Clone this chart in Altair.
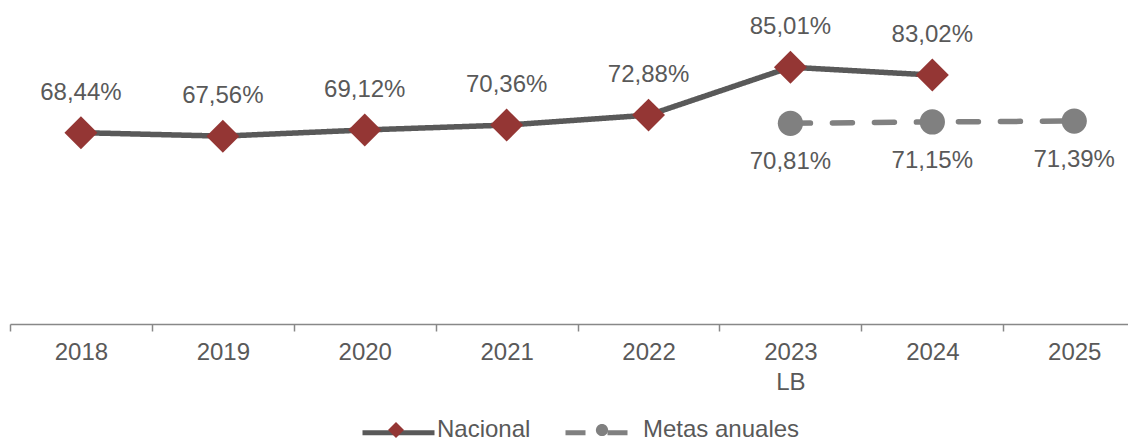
import json
import altair as alt
import pandas as pd

# ---------------- data ----------------
years = ["2018", "2019", "2020", "2021", "2022", "2023", "2024", "2025"]
year_labels = ["2018", "2019", "2020", "2021", "2022", "2023\nLB", "2024", "2025"]
series = ["Nacional", "Metas anuales"]
nacional_years = ["2018", "2019", "2020", "2021", "2022", "2023", "2024"]
nacional_values = [68.44, 67.56, 69.12, 70.36, 72.88, 85.01, 83.02]
metas_years = ["2023", "2024", "2025"]
metas_values = [70.81, 71.15, 71.39]

rows = []
for y, v in zip(nacional_years, nacional_values):
    rows.append({"serie": "Nacional", "idx": years.index(y), "valor": v})
for y, v in zip(metas_years, metas_values):
    rows.append({"serie": "Metas anuales", "idx": years.index(y), "valor": v})
df = pd.DataFrame(rows)
df["etiqueta"] = df["valor"].map(lambda v: f"{v:.2f}".replace(".", ",") + "%")

# ---------------- style ----------------
FONT = "Liberation Sans"
TXT = "#595959"
RED = "#943634"
DARK = "#595959"
GRAY = "#808080"
AXIS = "#888888"

diamond_path = "M0,-0.222L0.222,0L0,0.222L-0.222,0Z"
circle_path = "M-0.17,0A0.17,0.17,0,1,0,0.17,0A0.17,0.17,0,1,0,-0.17,0Z"

label_arr = json.dumps([l.split("\n") for l in year_labels])
tick_vals = [i * 0.5 - 0.5 for i in range(16)]  # -0.5 .. 7.0

x_enc = alt.X(
    "idx:Q",
    scale=alt.Scale(domain=[-0.5, 7.379], nice=False, zero=False),
    axis=alt.Axis(
        values=tick_vals,
        title=None,
        grid=False,
        labelExpr=f"datum.value % 1 == 0 ? {label_arr}[datum.value] : ''",
        tickColor={"condition": {"test": "datum.value % 1 != 0", "value": AXIS}, "value": "transparent"},
        tickSize=7,
        tickWidth=1.5,
        domainColor=AXIS,
        domainWidth=1.5,
        labelFont=FONT,
        labelFontSize=24,
        labelColor=TXT,
        labelPadding=9,
        labelLineHeight=30,
        labelOverlap=False,
        labelFlush=False,
        labelBound=False,
    ),
)
y_enc = alt.Y("valor:Q", scale=alt.Scale(domain=[20, 100], nice=False, zero=False), axis=None)

LEG_X = 350
LEG_Y = 386

# the line legend gets a scale domain with one hidden extra entry so that
# Vega-Lite keeps it apart from the marker legend (they are then overlaid)
line_domain = series + ["_"]
line_legend = alt.Legend(
    title=None, orient="none", legendX=LEG_X, legendY=LEG_Y, direction="horizontal",
    values=series,
    symbolType="stroke", symbolSize=5184, symbolStrokeWidth=5,
    labelExpr="''", labelFontSize=24, labelOffset=5, columnPadding=110, padding=0,
)
point_legend = alt.Legend(
    title=None, orient="none", legendX=LEG_X, legendY=LEG_Y, direction="horizontal",
    symbolSize=5184, symbolStrokeWidth=0,
    labelFont=FONT, labelFontSize=24, labelColor=TXT,
    labelOffset=5, columnPadding=35, padding=0,
)

base = alt.Chart(df)

lines = base.mark_line(strokeWidth=5.5, strokeCap="round", strokeJoin="round").encode(
    x=x_enc,
    y=y_enc,
    detail="serie:N",
    stroke=alt.Stroke(
        "serie:N", scale=alt.Scale(domain=line_domain, range=[DARK, GRAY, "transparent"]), legend=line_legend
    ),
    strokeDash=alt.StrokeDash(
        "serie:N", scale=alt.Scale(domain=line_domain, range=[[1, 0], [20, 22], [1, 0]]), legend=line_legend
    ),
)

points = base.mark_point(filled=True, size=22090, opacity=1, strokeWidth=0).encode(
    x=x_enc,
    y=y_enc,
    color=alt.Color("serie:N", scale=alt.Scale(domain=series, range=[RED, GRAY]), legend=point_legend),
    shape=alt.Shape(
        "serie:N", scale=alt.Scale(domain=series, range=[diamond_path, circle_path]), legend=point_legend
    ),
)

text_nac = base.transform_filter(alt.datum.serie == "Nacional").mark_text(
    dy=-40, font=FONT, fontSize=24, color=TXT, baseline="middle"
).encode(x=x_enc, y=y_enc, text="etiqueta:N")

text_met = base.transform_filter(alt.datum.serie == "Metas anuales").mark_text(
    dy=39, font=FONT, fontSize=24, color=TXT, baseline="middle"
).encode(x=x_enc, y=y_enc, text="etiqueta:N")

chart = (
    alt.layer(lines, points, text_nac, text_met)
    .properties(
        width=1118,
        height=316,
        autosize=alt.AutoSizeParams(type="none"),
        padding={"left": 2, "top": 0, "right": 0, "bottom": 115},
        background="white",
    )
    .configure_view(stroke=None)
)

chart.save("out.html", embed_options={"renderer": "svg", "actions": False})
